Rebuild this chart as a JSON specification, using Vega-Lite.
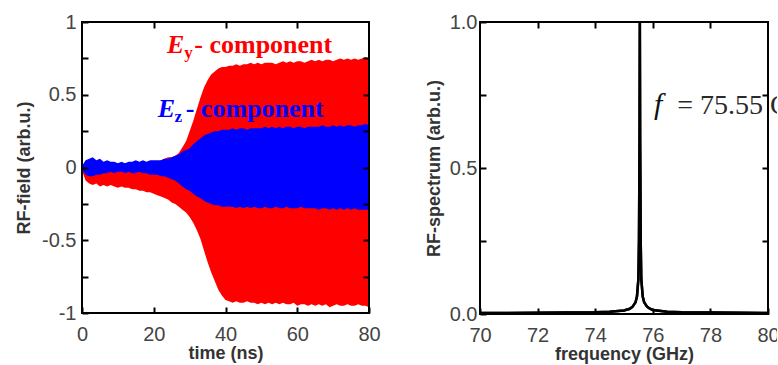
{
  "$schema": "https://vega.github.io/schema/vega-lite/v6.json",
  "background": "white",
  "padding": {"left": 14, "top": 11, "right": -47, "bottom": 0},
  "spacing": 42,
  "config": {
    "view": {"stroke": "black", "strokeWidth": 2},
    "axis": {"grid": false, "labelFont": "Liberation Sans", "labelFontSize": 20, "labelColor": "#444444", "titleFont": "Liberation Sans", "titleFontSize": 18, "titleFontWeight": "bold", "titleColor": "#333333"}
  },
  "hconcat": [
    {
      "width": 287,
      "height": 291,
      "data": {"values": [
        {"t":0,"yhi":0.00,"ylo":-0.02,"zhi":0.01,"zlo":-0.01},
        {"t":1,"yhi":0.02,"ylo":-0.09,"zhi":0.05,"zlo":-0.05},
        {"t":2,"yhi":0.03,"ylo":-0.11,"zhi":0.06,"zlo":-0.06},
        {"t":3,"yhi":0.03,"ylo":-0.12,"zhi":0.07,"zlo":-0.06},
        {"t":4,"yhi":0.03,"ylo":-0.11,"zhi":0.05,"zlo":-0.05},
        {"t":5,"yhi":0.03,"ylo":-0.13,"zhi":0.06,"zlo":-0.05},
        {"t":6,"yhi":0.03,"ylo":-0.12,"zhi":0.04,"zlo":-0.04},
        {"t":7,"yhi":0.03,"ylo":-0.13,"zhi":0.05,"zlo":-0.04},
        {"t":8,"yhi":0.03,"ylo":-0.12,"zhi":0.04,"zlo":-0.03},
        {"t":9,"yhi":0.03,"ylo":-0.13,"zhi":0.04,"zlo":-0.04},
        {"t":10,"yhi":0.03,"ylo":-0.14,"zhi":0.03,"zlo":-0.03},
        {"t":11,"yhi":0.03,"ylo":-0.13,"zhi":0.04,"zlo":-0.03},
        {"t":12,"yhi":0.03,"ylo":-0.14,"zhi":0.03,"zlo":-0.04},
        {"t":13,"yhi":0.03,"ylo":-0.14,"zhi":0.04,"zlo":-0.03},
        {"t":14,"yhi":0.03,"ylo":-0.15,"zhi":0.04,"zlo":-0.04},
        {"t":15,"yhi":0.03,"ylo":-0.15,"zhi":0.05,"zlo":-0.04},
        {"t":16,"yhi":0.03,"ylo":-0.16,"zhi":0.04,"zlo":-0.03},
        {"t":17,"yhi":0.03,"ylo":-0.16,"zhi":0.05,"zlo":-0.04},
        {"t":18,"yhi":0.03,"ylo":-0.17,"zhi":0.04,"zlo":-0.04},
        {"t":19,"yhi":0.03,"ylo":-0.17,"zhi":0.05,"zlo":-0.05},
        {"t":20,"yhi":0.04,"ylo":-0.18,"zhi":0.05,"zlo":-0.05},
        {"t":21,"yhi":0.04,"ylo":-0.19,"zhi":0.05,"zlo":-0.05},
        {"t":22,"yhi":0.05,"ylo":-0.20,"zhi":0.05,"zlo":-0.06},
        {"t":23,"yhi":0.06,"ylo":-0.21,"zhi":0.06,"zlo":-0.06},
        {"t":24,"yhi":0.07,"ylo":-0.22,"zhi":0.06,"zlo":-0.07},
        {"t":25,"yhi":0.07,"ylo":-0.24,"zhi":0.07,"zlo":-0.08},
        {"t":26,"yhi":0.08,"ylo":-0.25,"zhi":0.08,"zlo":-0.09},
        {"t":27,"yhi":0.10,"ylo":-0.27,"zhi":0.09,"zlo":-0.11},
        {"t":28,"yhi":0.14,"ylo":-0.29,"zhi":0.11,"zlo":-0.13},
        {"t":29,"yhi":0.18,"ylo":-0.31,"zhi":0.12,"zlo":-0.15},
        {"t":30,"yhi":0.25,"ylo":-0.34,"zhi":0.13,"zlo":-0.16},
        {"t":31,"yhi":0.32,"ylo":-0.38,"zhi":0.16,"zlo":-0.18},
        {"t":32,"yhi":0.40,"ylo":-0.43,"zhi":0.18,"zlo":-0.20},
        {"t":33,"yhi":0.48,"ylo":-0.49,"zhi":0.20,"zlo":-0.21},
        {"t":34,"yhi":0.55,"ylo":-0.57,"zhi":0.22,"zlo":-0.23},
        {"t":35,"yhi":0.60,"ylo":-0.65,"zhi":0.23,"zlo":-0.24},
        {"t":36,"yhi":0.64,"ylo":-0.72,"zhi":0.24,"zlo":-0.25},
        {"t":37,"yhi":0.66,"ylo":-0.78,"zhi":0.25,"zlo":-0.26},
        {"t":38,"yhi":0.68,"ylo":-0.84,"zhi":0.25,"zlo":-0.26},
        {"t":39,"yhi":0.69,"ylo":-0.88,"zhi":0.26,"zlo":-0.27},
        {"t":40,"yhi":0.69,"ylo":-0.91,"zhi":0.26,"zlo":-0.27},
        {"t":41,"yhi":0.70,"ylo":-0.92,"zhi":0.26,"zlo":-0.27},
        {"t":42,"yhi":0.70,"ylo":-0.93,"zhi":0.27,"zlo":-0.27},
        {"t":43,"yhi":0.71,"ylo":-0.92,"zhi":0.26,"zlo":-0.28},
        {"t":44,"yhi":0.70,"ylo":-0.93,"zhi":0.27,"zlo":-0.27},
        {"t":45,"yhi":0.71,"ylo":-0.93,"zhi":0.27,"zlo":-0.28},
        {"t":46,"yhi":0.71,"ylo":-0.92,"zhi":0.26,"zlo":-0.27},
        {"t":47,"yhi":0.72,"ylo":-0.93,"zhi":0.27,"zlo":-0.28},
        {"t":48,"yhi":0.71,"ylo":-0.93,"zhi":0.27,"zlo":-0.27},
        {"t":49,"yhi":0.72,"ylo":-0.94,"zhi":0.27,"zlo":-0.28},
        {"t":50,"yhi":0.71,"ylo":-0.93,"zhi":0.27,"zlo":-0.28},
        {"t":51,"yhi":0.72,"ylo":-0.94,"zhi":0.28,"zlo":-0.27},
        {"t":52,"yhi":0.72,"ylo":-0.93,"zhi":0.27,"zlo":-0.28},
        {"t":53,"yhi":0.72,"ylo":-0.94,"zhi":0.28,"zlo":-0.28},
        {"t":54,"yhi":0.71,"ylo":-0.93,"zhi":0.27,"zlo":-0.27},
        {"t":55,"yhi":0.72,"ylo":-0.94,"zhi":0.28,"zlo":-0.28},
        {"t":56,"yhi":0.73,"ylo":-0.93,"zhi":0.27,"zlo":-0.28},
        {"t":57,"yhi":0.72,"ylo":-0.94,"zhi":0.28,"zlo":-0.27},
        {"t":58,"yhi":0.73,"ylo":-0.94,"zhi":0.28,"zlo":-0.28},
        {"t":59,"yhi":0.72,"ylo":-0.93,"zhi":0.27,"zlo":-0.28},
        {"t":60,"yhi":0.73,"ylo":-0.95,"zhi":0.28,"zlo":-0.28},
        {"t":61,"yhi":0.73,"ylo":-0.94,"zhi":0.28,"zlo":-0.27},
        {"t":62,"yhi":0.72,"ylo":-0.94,"zhi":0.27,"zlo":-0.28},
        {"t":63,"yhi":0.73,"ylo":-0.95,"zhi":0.28,"zlo":-0.28},
        {"t":64,"yhi":0.74,"ylo":-0.94,"zhi":0.28,"zlo":-0.28},
        {"t":65,"yhi":0.73,"ylo":-0.95,"zhi":0.28,"zlo":-0.28},
        {"t":66,"yhi":0.74,"ylo":-0.94,"zhi":0.28,"zlo":-0.29},
        {"t":67,"yhi":0.73,"ylo":-0.95,"zhi":0.29,"zlo":-0.28},
        {"t":68,"yhi":0.74,"ylo":-0.94,"zhi":0.28,"zlo":-0.28},
        {"t":69,"yhi":0.74,"ylo":-0.96,"zhi":0.28,"zlo":-0.29},
        {"t":70,"yhi":0.73,"ylo":-0.95,"zhi":0.29,"zlo":-0.28},
        {"t":71,"yhi":0.74,"ylo":-0.94,"zhi":0.28,"zlo":-0.29},
        {"t":72,"yhi":0.75,"ylo":-0.95,"zhi":0.29,"zlo":-0.28},
        {"t":73,"yhi":0.74,"ylo":-0.95,"zhi":0.28,"zlo":-0.29},
        {"t":74,"yhi":0.75,"ylo":-0.94,"zhi":0.29,"zlo":-0.28},
        {"t":75,"yhi":0.74,"ylo":-0.95,"zhi":0.29,"zlo":-0.29},
        {"t":76,"yhi":0.75,"ylo":-0.95,"zhi":0.28,"zlo":-0.28},
        {"t":77,"yhi":0.74,"ylo":-0.94,"zhi":0.29,"zlo":-0.29},
        {"t":78,"yhi":0.75,"ylo":-0.95,"zhi":0.29,"zlo":-0.29},
        {"t":79,"yhi":0.76,"ylo":-0.95,"zhi":0.30,"zlo":-0.29},
        {"t":80,"yhi":0.75,"ylo":-0.96,"zhi":0.29,"zlo":-0.29}
      ]},
      "layer": [
        {
          "mark": {"type": "area", "color": "#ff0000", "opacity": 1},
          "encoding": {
            "x": {"field": "t", "type": "quantitative", "scale": {"domain": [0, 80], "nice": false, "zero": false}, "axis": {"orient": "bottom", "values": [0, 20, 40, 60, 80], "domain": false, "ticks": true, "tickColor": "black", "tickWidth": 2, "tickSize": -6, "labelFlush": false, "labelPadding": 17, "zindex": 1, "title": "time (ns)", "titlePadding": 0}},
            "y": {"field": "ylo", "type": "quantitative", "scale": {"domain": [-1, 1], "nice": false}, "axis": {"orient": "left", "values": [-1, -0.75, -0.5, -0.25, 0, 0.25, 0.5, 0.75, 1], "labelExpr": "datum.value == 1 ? '1' : datum.value == 0.5 ? '0.5' : datum.value == 0 ? '0' : datum.value == -0.5 ? '-0.5' : datum.value == -1 ? '-1' : ''", "domain": false, "ticks": true, "tickColor": "black", "tickWidth": 2, "tickSize": -6, "labelPadding": 12, "zindex": 1, "title": "RF-field (arb.u.)", "titlePadding": 8}},
            "y2": {"field": "yhi"}
          }
        },
        {
          "mark": {"type": "area", "color": "#0000ff", "opacity": 1},
          "encoding": {
            "x": {"field": "t", "type": "quantitative", "axis": {"orient": "top", "values": [20, 40, 60], "labels": false, "domain": false, "ticks": true, "tickColor": "black", "tickWidth": 2, "tickSize": -6, "zindex": 1, "title": null}},
            "y": {"field": "zlo", "type": "quantitative", "axis": {"orient": "right", "values": [-0.75, -0.5, -0.25, 0, 0.25, 0.5, 0.75], "labels": false, "domain": false, "ticks": true, "tickColor": "black", "tickWidth": 2, "tickSize": -6, "zindex": 1, "title": null}},
            "y2": {"field": "zhi"}
          }
        },
        {
          "data": {"values": [
            {"fx": 0, "fy": -1, "o": 0},
            {"fx": 80, "fy": -1, "o": 1},
            {"fx": 80, "fy": 1, "o": 2},
            {"fx": 0, "fy": 1, "o": 3},
            {"fx": 0, "fy": -1, "o": 4}
          ]},
          "mark": {"type": "line", "color": "black", "strokeWidth": 2, "strokeJoin": "miter"},
          "encoding": {
            "x": {"field": "fx", "type": "quantitative", "axis": null},
            "y": {"field": "fy", "type": "quantitative", "axis": null},
            "order": {"field": "o", "type": "quantitative"}
          }
        },
        {
          "data": {"values": [
            {"x": 23.7, "v": 0.787, "s": "E", "c": "y"},
            {"x": 21.1, "v": 0.345, "s": "E", "c": "z"}
          ]},
          "mark": {"type": "text", "font": "Liberation Serif", "fontSize": 26, "fontWeight": "bold", "fontStyle": "italic", "align": "left", "baseline": "alphabetic"},
          "encoding": {
            "x": {"field": "x", "type": "quantitative", "axis": null},
            "y": {"field": "v", "type": "quantitative", "axis": null},
            "text": {"field": "s"},
            "color": {"field": "c", "type": "nominal", "scale": {"domain": ["y", "z"], "range": ["#ff0000", "#0000ff"]}, "legend": null}
          }
        },
        {
          "data": {"values": [
            {"x": 28.5, "v": 0.75, "s": "y", "c": "y"},
            {"x": 25.8, "v": 0.31, "s": "z", "c": "z"}
          ]},
          "mark": {"type": "text", "font": "Liberation Serif", "fontSize": 17, "fontWeight": "bold", "align": "left", "baseline": "alphabetic"},
          "encoding": {
            "x": {"field": "x", "type": "quantitative", "axis": null},
            "y": {"field": "v", "type": "quantitative", "axis": null},
            "text": {"field": "s"},
            "color": {"field": "c", "type": "nominal", "scale": {"domain": ["y", "z"], "range": ["#ff0000", "#0000ff"]}, "legend": null}
          }
        },
        {
          "data": {"values": [
            {"x": 31.3, "v": 0.787, "s": "- component", "c": "y"},
            {"x": 28.9, "v": 0.345, "s": "- component", "c": "z"}
          ]},
          "mark": {"type": "text", "font": "Liberation Serif", "fontSize": 26, "fontWeight": "bold", "align": "left", "baseline": "alphabetic"},
          "encoding": {
            "x": {"field": "x", "type": "quantitative", "axis": null},
            "y": {"field": "v", "type": "quantitative", "axis": null},
            "text": {"field": "s"},
            "color": {"field": "c", "type": "nominal", "scale": {"domain": ["y", "z"], "range": ["#ff0000", "#0000ff"]}, "legend": null}
          }
        }
      ],
      "resolve": {"axis": {"x": "independent", "y": "independent"}}
    },
    {
      "width": 288,
      "height": 292,
      "data": {"values": [
        {"f": 70, "a": 0.003},
        {"f": 71, "a": 0.003},
        {"f": 72, "a": 0.004},
        {"f": 73, "a": 0.005},
        {"f": 74, "a": 0.006},
        {"f": 74.5, "a": 0.008},
        {"f": 75, "a": 0.012},
        {"f": 75.2, "a": 0.018},
        {"f": 75.3, "a": 0.025},
        {"f": 75.4, "a": 0.04},
        {"f": 75.45, "a": 0.06},
        {"f": 75.5, "a": 0.12},
        {"f": 75.52, "a": 0.25},
        {"f": 75.54, "a": 0.6},
        {"f": 75.55, "a": 1.0},
        {"f": 75.56, "a": 0.6},
        {"f": 75.58, "a": 0.25},
        {"f": 75.6, "a": 0.12},
        {"f": 75.65, "a": 0.06},
        {"f": 75.7, "a": 0.04},
        {"f": 75.8, "a": 0.025},
        {"f": 75.9, "a": 0.018},
        {"f": 76, "a": 0.014},
        {"f": 76.5, "a": 0.008},
        {"f": 77, "a": 0.006},
        {"f": 78, "a": 0.005},
        {"f": 79, "a": 0.004},
        {"f": 80, "a": 0.003}
      ]},
      "layer": [
        {
          "mark": {"type": "line", "color": "black", "strokeWidth": 2.5},
          "encoding": {
            "x": {"field": "f", "type": "quantitative", "scale": {"domain": [70, 80], "nice": false, "zero": false}, "axis": {"orient": "bottom", "values": [70, 72, 74, 76, 78, 80], "domain": false, "ticks": true, "tickColor": "black", "tickWidth": 2, "tickSize": -6, "labelFlush": false, "labelPadding": 17, "zindex": 1, "title": "frequency (GHz)", "titlePadding": 0}},
            "y": {"field": "a", "type": "quantitative", "scale": {"domain": [0, 1], "nice": false}, "axis": {"orient": "left", "values": [0, 0.25, 0.5, 0.75, 1], "labelExpr": "datum.value == 1 ? '1.0' : datum.value == 0.5 ? '0.5' : datum.value == 0 ? '0.0' : ''", "domain": false, "ticks": true, "tickColor": "black", "tickWidth": 2, "tickSize": -6, "labelPadding": 9, "zindex": 1, "title": "RF-spectrum (arb.u.)", "titlePadding": 6}}
          }
        },
        {
          "mark": {"type": "line", "color": "black", "strokeWidth": 2.5},
          "encoding": {
            "x": {"field": "f", "type": "quantitative", "axis": {"orient": "top", "values": [72, 74, 76, 78], "labels": false, "domain": false, "ticks": true, "tickColor": "black", "tickWidth": 2, "tickSize": -6, "zindex": 1, "title": null}},
            "y": {"field": "a", "type": "quantitative", "axis": {"orient": "right", "values": [0.25, 0.5, 0.75], "labels": false, "domain": false, "ticks": true, "tickColor": "black", "tickWidth": 2, "tickSize": -6, "zindex": 1, "title": null}}
          }
        },
        {
          "data": {"values": [
            {"fx": 80, "fy": 0.68, "o": 0},
            {"fx": 80, "fy": 0, "o": 1},
            {"fx": 70, "fy": 0, "o": 2},
            {"fx": 70, "fy": 1, "o": 3},
            {"fx": 80, "fy": 1, "o": 4},
            {"fx": 80, "fy": 0.78, "o": 5}
          ]},
          "mark": {"type": "line", "color": "black", "strokeWidth": 2, "strokeJoin": "miter"},
          "encoding": {
            "x": {"field": "fx", "type": "quantitative", "axis": null},
            "y": {"field": "fy", "type": "quantitative", "axis": null},
            "order": {"field": "o", "type": "quantitative"}
          }
        },
        {
          "data": {"values": [{"f": 76.04, "v": 0.685, "s": "f"}]},
          "mark": {"type": "text", "font": "Liberation Serif", "fontSize": 30, "fontStyle": "italic", "align": "left", "baseline": "alphabetic", "color": "#111111"},
          "encoding": {
            "x": {"field": "f", "type": "quantitative", "axis": null},
            "y": {"field": "v", "type": "quantitative", "axis": null},
            "text": {"field": "s"}
          }
        },
        {
          "data": {"values": [{"f": 76.85, "v": 0.685, "s": "= 75.55 GHz"}]},
          "mark": {"type": "text", "font": "Liberation Serif", "fontSize": 28, "align": "left", "baseline": "alphabetic", "color": "#2a2a2a"},
          "encoding": {
            "x": {"field": "f", "type": "quantitative", "axis": null},
            "y": {"field": "v", "type": "quantitative", "axis": null},
            "text": {"field": "s"}
          }
        }
      ],
      "resolve": {"axis": {"x": "independent", "y": "independent"}}
    }
  ]
}
